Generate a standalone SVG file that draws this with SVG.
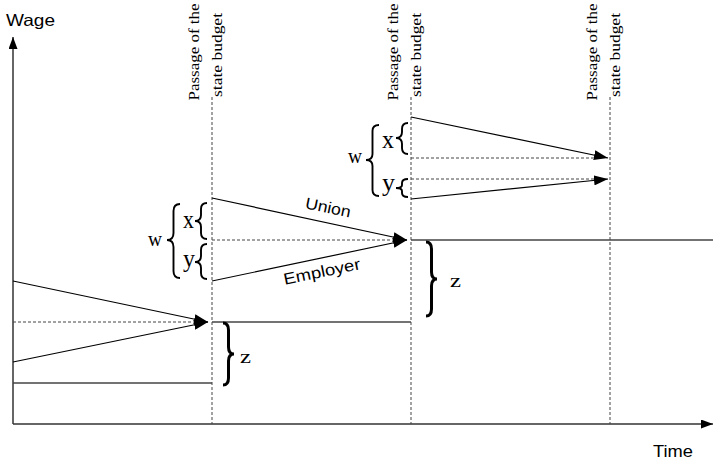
<svg xmlns="http://www.w3.org/2000/svg" width="713" height="461" viewBox="0 0 713 461">
<style>
.sans{font-family:"Liberation Sans",Arial,sans-serif;fill:#000}
.serif{font-family:"Liberation Serif","Times New Roman",serif;fill:#000}
.axis{stroke:#333;stroke-width:1.5;fill:none}
.dash{stroke:#444;stroke-width:1;stroke-dasharray:3 2;fill:none}
.solid{stroke:#444;stroke-width:1.5;fill:none}
.arr{stroke:#000;stroke-width:1.2;fill:none;marker-end:url(#ah)}
.brace{stroke:#000;stroke-width:1.9;fill:none}
.bbrace{stroke:#000;stroke-width:3;fill:none}
</style>
<defs>
<marker id="ah" viewBox="0 0 14 10" refX="14" refY="5" markerWidth="14" markerHeight="10" markerUnits="userSpaceOnUse" orient="auto"><path d="M0,0 L14,5 L0,10 z" fill="#000"/></marker>
<marker id="axh" viewBox="0 0 12 9" refX="12" refY="4.5" markerWidth="12" markerHeight="9" markerUnits="userSpaceOnUse" orient="auto"><path d="M0,0 L12,4.5 L0,9 z" fill="#000"/></marker>
</defs>
<g id="axes">
<line class="axis" x1="13" y1="424" x2="13" y2="37" marker-end="url(#axh)"/>
<line class="axis" x1="13" y1="424" x2="713" y2="424" marker-end="url(#axh)"/>
<text class="sans" x="6" y="26" font-size="16.5" textLength="49" lengthAdjust="spacingAndGlyphs">Wage</text>
<text class="sans" x="653" y="457" font-size="17" textLength="40" lengthAdjust="spacingAndGlyphs">Time</text>
</g>
<g id="budget1">
<line class="dash" x1="212" y1="97" x2="212" y2="424"/>
<text class="serif" transform="translate(199,52) rotate(-90)" text-anchor="middle" font-size="14.5" textLength="97" lengthAdjust="spacingAndGlyphs">Passage of the</text>
<text class="serif" transform="translate(222,55) rotate(-90)" text-anchor="middle" font-size="14.5" textLength="84" lengthAdjust="spacingAndGlyphs">state budget</text>
</g>
<g id="budget2">
<line class="dash" x1="411" y1="97" x2="411" y2="424"/>
<text class="serif" transform="translate(398,52) rotate(-90)" text-anchor="middle" font-size="14.5" textLength="97" lengthAdjust="spacingAndGlyphs">Passage of the</text>
<text class="serif" transform="translate(421,55) rotate(-90)" text-anchor="middle" font-size="14.5" textLength="84" lengthAdjust="spacingAndGlyphs">state budget</text>
</g>
<g id="budget3">
<line class="dash" x1="610" y1="97" x2="610" y2="424"/>
<text class="serif" transform="translate(597,52) rotate(-90)" text-anchor="middle" font-size="14.5" textLength="97" lengthAdjust="spacingAndGlyphs">Passage of the</text>
<text class="serif" transform="translate(620,55) rotate(-90)" text-anchor="middle" font-size="14.5" textLength="84" lengthAdjust="spacingAndGlyphs">state budget</text>
</g>
<g id="levels">
<line class="solid" x1="13" y1="383" x2="212" y2="383"/>
<line class="solid" x1="212" y1="322" x2="411" y2="322"/>
<line class="solid" x1="411" y1="240" x2="713" y2="240"/>
<line class="dash" x1="13" y1="322" x2="200" y2="322"/>
<line class="dash" x1="212" y1="240" x2="400" y2="240"/>
<line class="dash" x1="411" y1="158" x2="600" y2="158"/>
<line class="dash" x1="411" y1="179" x2="600" y2="179"/>
</g>
<g id="connectors">
<line class="arr" x1="13" y1="281" x2="208" y2="322"/>
<line class="arr" x1="13" y1="362" x2="208" y2="322"/>
<line class="arr" x1="212" y1="198" x2="407" y2="240"/>
<line class="arr" x1="212" y1="281" x2="407" y2="240"/>
<line class="arr" x1="411" y1="117" x2="608" y2="158"/>
<line class="arr" x1="411" y1="199" x2="608" y2="179"/>
</g>
<g id="labels2">
<text class="sans" transform="translate(328,208) rotate(11.6)" text-anchor="middle" y="5" font-size="16" textLength="46" lengthAdjust="spacingAndGlyphs">Union</text>
<text class="sans" transform="translate(322,272) rotate(-11.6)" text-anchor="middle" y="5" font-size="16" textLength="78" lengthAdjust="spacingAndGlyphs">Employer</text>
<path class="brace" d="M180,204 Q173.5,204 173.5,211 L173.5,233 Q173.5,240 167,240 Q173.5,240 173.5,247 L173.5,271 Q173.5,278 180,278"/>
<path class="brace" d="M207,203 Q201,203 201,209 L201,215 Q201,221 195,221 Q201,221 201,227 L201,233 Q201,239 207,239"/>
<path class="brace" d="M207,244 Q201,244 201,250 L201,256 Q201,262 195,262 Q201,262 201,268 L201,273 Q201,279 207,279"/>
<text class="serif" x="148" y="246" font-size="21" textLength="14" lengthAdjust="spacingAndGlyphs">w</text>
<text class="serif" x="183" y="228" font-size="25" textLength="11" lengthAdjust="spacingAndGlyphs">x</text>
<text class="serif" x="183" y="267" font-size="25" textLength="12" lengthAdjust="spacingAndGlyphs">y</text>
</g>
<g id="labels3">
<path class="brace" d="M379,125 Q372.5,125 372.5,131 L372.5,154 Q372.5,160 366,160 Q372.5,160 372.5,166 L372.5,190 Q372.5,196 379,196"/>
<path class="brace" d="M408,123 Q402,123 402,129 L402,132 Q402,138 396,138 Q402,138 402,144 L402,148 Q402,154 408,154"/>
<path class="brace" d="M408,179 Q402,179 402,183 L402,185 Q402,188 396,188 Q402,188 402,191 L402,193 Q402,197 408,197"/>
<text class="serif" x="348" y="163" font-size="21" textLength="14" lengthAdjust="spacingAndGlyphs">w</text>
<text class="serif" x="382" y="148" font-size="25" textLength="12" lengthAdjust="spacingAndGlyphs">x</text>
<text class="serif" x="382" y="191" font-size="25" textLength="13" lengthAdjust="spacingAndGlyphs">y</text>
</g>
<g id="z1">
<path class="bbrace" d="M223,323 Q228.5,323 228.5,330 L228.5,347 Q228.5,354 234,354 Q228.5,354 228.5,361 L228.5,378 Q228.5,385 223,385"/>
<text class="serif" x="240" y="363" font-size="19" textLength="11" lengthAdjust="spacingAndGlyphs">z</text>
</g>
<g id="z2">
<path class="bbrace" d="M426,242 Q431.5,242 431.5,249 L431.5,272 Q431.5,279 437,279 Q431.5,279 431.5,286 L431.5,309 Q431.5,316 426,316"/>
<text class="serif" x="450" y="287" font-size="19" textLength="11" lengthAdjust="spacingAndGlyphs">z</text>
</g>
</svg>
